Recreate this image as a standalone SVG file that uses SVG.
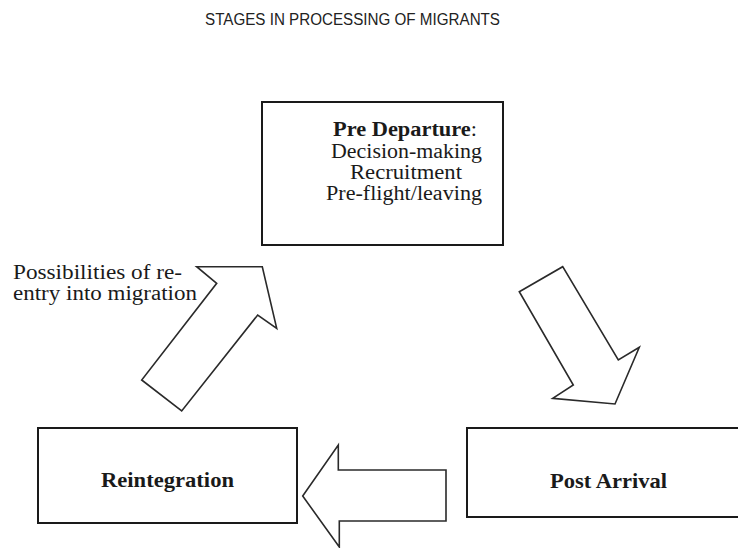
<svg xmlns="http://www.w3.org/2000/svg" width="738" height="548" viewBox="0 0 738 548">
  <style>
    .box { fill: #ffffff; stroke: #1a1a1a; stroke-width: 2; }
    .arrow { fill: #ffffff; stroke: #2a2a2a; stroke-width: 1.6; stroke-linejoin: miter; }
    .serif { font-family: "Liberation Serif", "Times New Roman", serif; fill: #1a1a1a; }
    .bold { font-weight: bold; }
    .title { font-family: "Liberation Sans", Arial, sans-serif; font-size: 16px; fill: #222222; }
  </style>
  <rect x="0" y="0" width="738" height="548" fill="#ffffff"/>

  <text class="title" x="205" y="25" textLength="295" lengthAdjust="spacingAndGlyphs">STAGES IN PROCESSING OF MIGRANTS</text>

  <g id="connectors">
    <polygon id="arrow-reentry" class="arrow" points="196.7,266.7 262.3,266.7 276.7,328.3 257.7,315 181.7,411 141.7,380 216.7,283.3"/>
    <polygon id="arrow-departure-arrival" class="arrow" points="519.3,291.7 562.7,266.7 618.3,360 639.3,347.3 615,404 552.7,398.3 573.3,385"/>
    <polygon id="arrow-arrival-reintegration" class="arrow" points="302.7,496 338.3,445 338.3,470 446,470 446,521 339.3,521 339.3,547"/>
    <g id="label-reentry" class="serif" font-size="20">
      <text x="13" y="279" textLength="169" lengthAdjust="spacingAndGlyphs">Possibilities of re-</text>
      <text x="13" y="300" textLength="184" lengthAdjust="spacingAndGlyphs">entry into migration</text>
    </g>
  </g>

  <g id="node-pre-departure">
    <rect class="box" x="262" y="102" width="241" height="143"/>
    <g class="serif" font-size="20">
      <text x="333" y="136" textLength="144" lengthAdjust="spacingAndGlyphs"><tspan class="bold">Pre Departure</tspan>:</text>
      <text x="331" y="158" textLength="151" lengthAdjust="spacingAndGlyphs">Decision-making</text>
      <text x="350" y="179" textLength="112" lengthAdjust="spacingAndGlyphs">Recruitment</text>
      <text x="326" y="200" textLength="156" lengthAdjust="spacingAndGlyphs">Pre-flight/leaving</text>
    </g>
  </g>

  <g id="node-post-arrival">
    <rect class="box" x="467" y="428" width="280" height="89"/>
    <text class="serif bold" font-size="21" x="550" y="488" textLength="117" lengthAdjust="spacingAndGlyphs">Post Arrival</text>
  </g>

  <g id="node-reintegration">
    <rect class="box" x="38" y="428" width="259" height="95"/>
    <text class="serif bold" font-size="21" x="101" y="487" textLength="133" lengthAdjust="spacingAndGlyphs">Reintegration</text>
  </g>
</svg>
